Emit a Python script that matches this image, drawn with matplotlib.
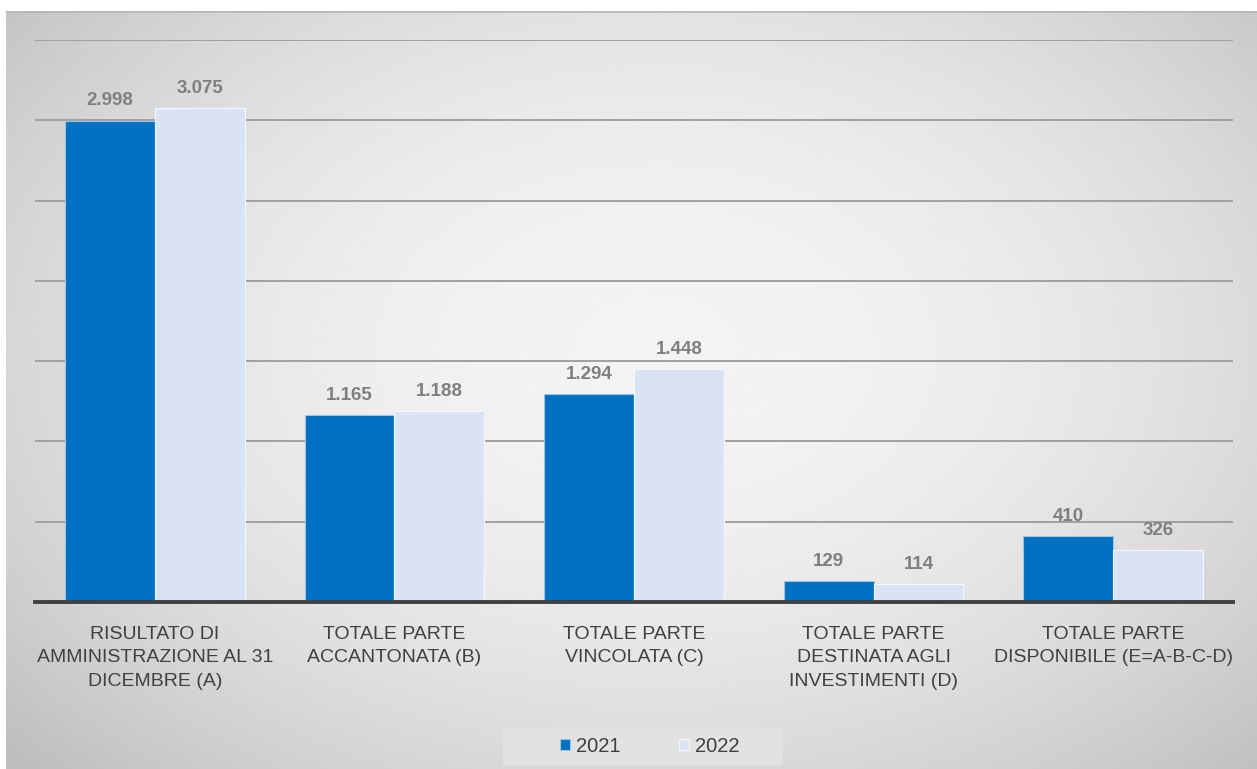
import numpy as np
import matplotlib.pyplot as plt
from matplotlib.patches import Rectangle

categorie = ["RISULTATO DI\nAMMINISTRAZIONE AL 31\nDICEMBRE (A)",
             "TOTALE PARTE\nACCANTONATA (B)",
             "TOTALE PARTE\nVINCOLATA (C)",
             "TOTALE PARTE\nDESTINATA AGLI\nINVESTIMENTI (D)",
             "TOTALE PARTE\nDISPONIBILE (E=A-B-C-D)"]
anni = ["2021", "2022"]
valori_2021 = [2998, 1165, 1294, 129, 410]
valori_2022 = [3075, 1188, 1448, 114, 326]

plt.rcParams['font.family'] = ['Liberation Sans Narrow', 'Liberation Sans', 'DejaVu Sans']

W, H = 1257, 769
fig = plt.figure(figsize=(W / 100, H / 100), dpi=100)
fig.patch.set_facecolor('white')

# sfondo grigio con gradiente radiale
bg = fig.add_axes([6 / W, 0, 1 - 6 / W, (H - 11) / H], zorder=0)
yy, xx = np.mgrid[0:1:300j, 0:1:500j]
r2 = ((xx - 0.52) / 0.72) ** 2 + ((yy - 0.55) / 0.8) ** 2
grad = np.clip(0.955 - 0.22 * r2, 0.74, 0.96)
bg.imshow(grad, cmap='gray', vmin=0, vmax=1, aspect='auto', extent=[0, 1, 0, 1], origin='lower')
bg.axhline(1, color='#b8b8b8', linewidth=2)
bg.set_axis_off()

ax = fig.add_axes([35 / W, 1 - 602 / H, (1233 - 35) / W, (602 - 40) / H], zorder=1)
ax.patch.set_alpha(0)

x = np.arange(len(categorie))
w = 0.375
b1 = ax.bar(x - w / 2, valori_2021, w, color='#0070C0', edgecolor='#9DC3E6', linewidth=0.8, zorder=3, label=anni[0])
b2 = ax.bar(x + w / 2, valori_2022, w, color='#DAE3F3', edgecolor='#F4F8FD', linewidth=0.8, zorder=3, label=anni[1])

for bars, vals in ((b1, valori_2021), (b2, valori_2022)):
    for b, v in zip(bars, vals):
        ax.annotate(f"{v:,}".replace(",", "."), (b.get_x() + b.get_width() / 2, v),
                    xytext=(0, 8), textcoords='offset points', ha='center', va='bottom',
                    fontsize=13.5, fontweight='bold', color='#7f7f7f', zorder=5,
                    family=['Liberation Sans', 'DejaVu Sans'])

ax.set_xlim(-0.5, len(categorie) - 0.5)
ax.set_ylim(0, 3500)
ax.set_yticks(np.arange(500, 3501, 500))
ax.yaxis.grid(True, color='#a0a0a0', linewidth=1.4, zorder=1)
ax.tick_params(axis='y', left=False, labelleft=False)
ax.tick_params(axis='x', bottom=False, pad=14)
ax.set_xticks(x)
ax.set_xticklabels(categorie, fontsize=14, color='#404040', linespacing=1.47, va='top')
for s in ['top', 'right', 'left']:
    ax.spines[s].set_visible(False)
ax.spines['bottom'].set_color('#404040')
ax.spines['bottom'].set_linewidth(2.8)
ax.spines['bottom'].set_zorder(4)

# riquadro della legenda
fig.patches.append(Rectangle((503 / W, 1 - 765 / H), 280 / W, 37 / H, transform=fig.transFigure,
                             facecolor='#e2e2e2', edgecolor='none', zorder=1))
leg = fig.legend(loc='center', bbox_to_anchor=(650 / W, 1 - 746 / H), ncol=2, frameon=False,
                 fontsize=14.5, handlelength=0.5, handleheight=0.5, handletextpad=0.3,
                 columnspacing=2.9, borderpad=0.35, borderaxespad=0)
leg.set_zorder(3)
for t in leg.get_texts():
    t.set_color('#404040')

fig.savefig('out.png', dpi=100)
